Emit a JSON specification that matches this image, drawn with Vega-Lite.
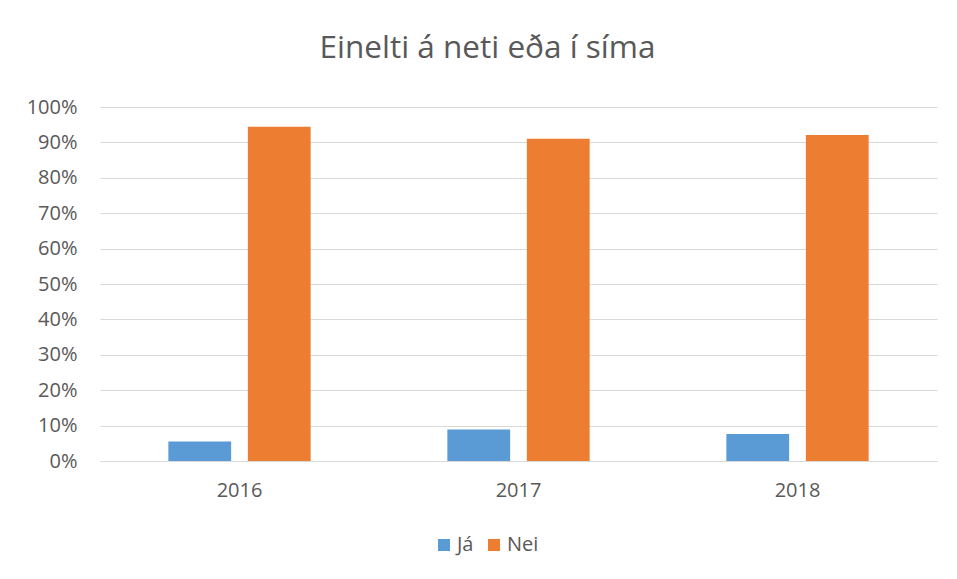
{
  "$schema": "https://vega.github.io/schema/vega-lite/v6.json",
  "autosize": {"type": "none"},
  "width": 837,
  "height": 354,
  "padding": {"left": 100, "top": 107, "right": 20, "bottom": 118},
  "background": "white",
  "title": {
    "text": "Einelti á neti eða í síma",
    "font": "Open Sans",
    "fontSize": 31.5,
    "fontWeight": "normal",
    "color": "#595959",
    "anchor": "middle",
    "dx": -31,
    "offset": 33
  },
  "data": {
    "values": [
      {"year": "2016", "answer": "Já", "value": 0.055},
      {"year": "2016", "answer": "Nei", "value": 0.944},
      {"year": "2017", "answer": "Já", "value": 0.089},
      {"year": "2017", "answer": "Nei", "value": 0.91},
      {"year": "2018", "answer": "Já", "value": 0.076},
      {"year": "2018", "answer": "Nei", "value": 0.921}
    ]
  },
  "mark": {"type": "bar"},
  "encoding": {
    "x": {
      "field": "year",
      "type": "nominal",
      "scale": {"paddingInner": 0.49, "paddingOuter": 0.245},
      "axis": {
        "title": null,
        "labelAngle": 0,
        "labelFont": "Open Sans",
        "labelFontSize": 20,
        "labelColor": "#595959",
        "labelPadding": 19,
        "ticks": false,
        "tickSize": 0,
        "domain": true,
        "domainColor": "#d9d9d9",
        "domainWidth": 1,
        "grid": false
      }
    },
    "xOffset": {
      "field": "answer",
      "type": "nominal",
      "scale": {"paddingInner": 0.21, "paddingOuter": 0}
    },
    "y": {
      "field": "value",
      "type": "quantitative",
      "scale": {"domain": [0, 1], "nice": false},
      "axis": {
        "title": null,
        "format": ".0%",
        "values": [0, 0.1, 0.2, 0.3, 0.4, 0.5, 0.6, 0.7, 0.8, 0.9, 1],
        "labelFont": "Open Sans",
        "labelFontSize": 20,
        "labelColor": "#595959",
        "labelPadding": 23,
        "ticks": false,
        "tickSize": 0,
        "domain": false,
        "grid": true,
        "gridColor": "#d9d9d9",
        "gridWidth": 1
      }
    },
    "color": {
      "field": "answer",
      "type": "nominal",
      "scale": {"domain": ["Já", "Nei"], "range": ["#5B9BD5", "#ED7D31"]},
      "legend": {
        "title": null,
        "orient": "none",
        "direction": "horizontal",
        "legendX": 334,
        "legendY": 428,
        "symbolType": "square",
        "symbolSize": 144,
        "symbolStrokeWidth": 0,
        "labelFont": "Open Sans",
        "labelFontSize": 20,
        "labelColor": "#595959",
        "labelOffset": 3,
        "columnPadding": 10
      }
    }
  },
  "config": {
    "view": {"stroke": null}
  }
}
